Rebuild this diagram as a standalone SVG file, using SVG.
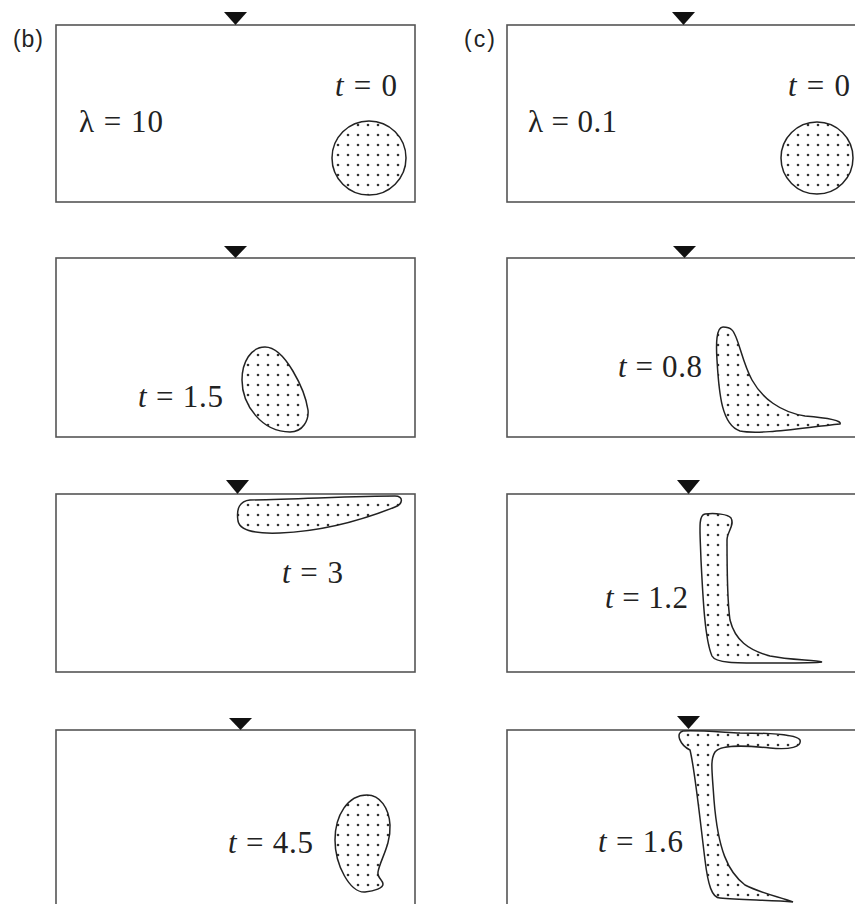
<svg xmlns="http://www.w3.org/2000/svg" width="855" height="904" viewBox="0 0 855 904">
<style>
.box{fill:none;stroke:#555;stroke-width:1.6}
.blob{fill:url(#dots);stroke:#222;stroke-width:1.5}
.tri{fill:#111}
.lab{font-family:"Liberation Serif","Times New Roman",serif;font-size:31px;fill:#222}
.it{font-style:italic}
.pan{font-family:"Liberation Sans",Arial,sans-serif;font-size:23px;fill:#222}
</style>
<defs>
<pattern id="dots" patternUnits="userSpaceOnUse" width="10" height="10" x="3" y="0">
<rect width="10" height="10" fill="#fff"/>
<circle cx="5" cy="5" r="1.3" fill="#333"/>
</pattern>
</defs>
<rect width="855" height="904" fill="#fff"/>
<g id="panel-labels">
<text class="pan" x="13" y="47" textLength="30">(b)</text>
<text class="pan" x="464" y="47" textLength="31">(c)</text>
</g>
<g id="b1">
<rect class="box" x="56" y="25" width="359" height="177"/>
<polygon class="tri" points="224,12 247,12 235.5,25"/>
<text class="lab" x="79" y="132" textLength="84">λ = 10</text>
<text class="lab" x="335" y="96" textLength="62"><tspan class="it">t</tspan> = 0</text>
<circle class="blob" cx="369" cy="158" r="37"/>
</g>
<g id="c1">
<rect class="box" x="507" y="25" width="370" height="177"/>
<polygon class="tri" points="672,12 695,12 683.5,25"/>
<text class="lab" x="528" y="132" textLength="89">λ = 0.1</text>
<text class="lab" x="788" y="96" textLength="62"><tspan class="it">t</tspan> = 0</text>
<circle class="blob" cx="817" cy="158" r="36"/>
</g>
<g id="b2">
<rect class="box" x="56" y="258" width="359" height="179"/>
<polygon class="tri" points="224,246 247,246 235.5,258"/>
<text class="lab" x="138" y="407" textLength="85"><tspan class="it">t</tspan> = 1.5</text>
<path class="blob" d="M265,347 C251,347 242,362 242,380 C242,405 262,432 290,432 C303,432 309,420 308,410 C305,390 285,347 265,347 Z"/>
</g>
<g id="c2">
<rect class="box" x="507" y="258" width="370" height="179"/>
<polygon class="tri" points="673,246 696,246 684.5,258"/>
<text class="lab" x="618" y="377" textLength="84"><tspan class="it">t</tspan> = 0.8</text>
<path class="blob" d="M723,327 C716,327 716,345 717,360 C719,395 722,425 740,431 C760,435 800,428 840,424 C842,421 830,418 805,416 C780,412 762,398 752,380 C742,362 738,335 732,330 C729,327 726,327 723,327 Z"/>
</g>
<g id="b3">
<rect class="box" x="56" y="494" width="359" height="178"/>
<polygon class="tri" points="226,480 249,480 237.5,494"/>
<text class="lab" x="282" y="583" textLength="61"><tspan class="it">t</tspan> = 3</text>
<path class="blob" d="M250,500 C300,499 360,496 395,496 C404,496 403,504 395,507 C370,517 330,531 280,533 C255,534 240,531 238,521 C236,508 240,501 250,500 Z"/>
</g>
<g id="c3">
<rect class="box" x="507" y="494" width="370" height="178"/>
<polygon class="tri" points="677,480 700,480 688.5,494"/>
<text class="lab" x="605" y="608" textLength="83"><tspan class="it">t</tspan> = 1.2</text>
<path class="blob" d="M705,514 C698,515 700,530 701,560 C703,600 705,640 712,656 C716,664 740,663 780,663 C800,663 815,663 822,662 C815,660 790,660 770,656 C748,650 735,640 730,620 C727,600 727,565 727,540 C727,532 735,525 731,518 C728,514 715,513 705,514 Z"/>
</g>
<g id="b4">
<rect class="box" x="56" y="730" width="359" height="200"/>
<polygon class="tri" points="229,718 252,718 240.5,730"/>
<text class="lab" x="228" y="853" textLength="85"><tspan class="it">t</tspan> = 4.5</text>
<path class="blob" d="M367,795 C348,795 335,815 335,840 C335,865 350,893 365,892 C375,891 383,888 383,884 C383,880 377,878 378,872 C380,860 391,845 390,825 C389,808 380,795 367,795 Z"/>
</g>
<g id="c4">
<rect class="box" x="507" y="730" width="370" height="200"/>
<polygon class="tri" points="677,716 700,716 688.5,729"/>
<text class="lab" x="598" y="852" textLength="85"><tspan class="it">t</tspan> = 1.6</text>
<path class="blob" d="M683,731 C675,733 680,745 690,750 C695,770 700,820 705,860 C708,885 712,898 720,898 C740,900 770,900 793,902 C780,897 760,893 745,885 C728,872 718,850 714,800 C712,770 710,760 715,752 C720,745 740,745 770,748 C790,750 802,747 800,740 C797,735 770,733 740,733 C720,732 695,730 683,731 Z"/>
</g>
</svg>
